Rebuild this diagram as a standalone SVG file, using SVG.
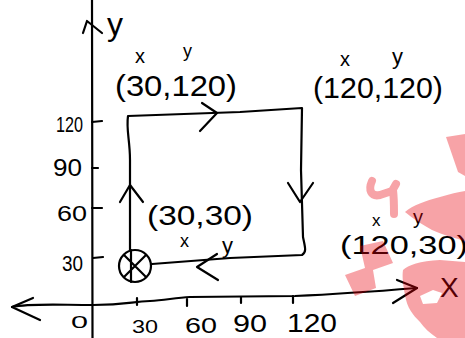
<svg xmlns="http://www.w3.org/2000/svg" width="465" height="338" viewBox="0 0 465 338">
<style>
.ink{fill:none;stroke:#000;stroke-width:2.2;stroke-linecap:round;stroke-linejoin:round}
.t{font-family:"Liberation Sans",Arial,sans-serif;fill:#000}
.wm{fill:rgb(232,0,12);fill-opacity:0.36;stroke:none}
</style>
<rect width="465" height="338" fill="#fff"/>
<g id="axes">
<path class="ink" d="M92,0 L92.5,338"/>
<path class="ink" d="M83,33 L87,21 L102,33"/>
<path class="ink" d="M92,122 L102,121 M92,168 L98,168 M92,208 L102,208 M93,258 L103,257"/>
<path class="ink" d="M12,307 C30,303 60,305 93,305 S130,302 150,301 C165,300 175,298 190,297 L295,296 C340,294 380,291 417,288"/>
<path class="ink" d="M33,298 L12,307 L40,320"/>
<path class="ink" d="M397,280 L417,288 L393,303"/>
<path class="ink" d="M137,298 L137,305 M187,299 L187,306 M241,297 L241,303 M293,296 L293,303"/>
<text class="t" x="107" y="35" font-size="32">y</text>
<text class="t" x="440" y="297" font-size="28">X</text>
<text class="t" x="56" y="132" font-size="22" textLength="27" lengthAdjust="spacingAndGlyphs">120</text>
<text class="t" x="53" y="176" font-size="24" textLength="29" lengthAdjust="spacingAndGlyphs">90</text>
<text class="t" x="57" y="221" font-size="22" textLength="30" lengthAdjust="spacingAndGlyphs">60</text>
<text class="t" x="62" y="271" font-size="22" textLength="21" lengthAdjust="spacingAndGlyphs">30</text>
<text class="t" x="71" y="328" font-size="16" textLength="17" lengthAdjust="spacingAndGlyphs">0</text>
<text class="t" x="132" y="333" font-size="18" textLength="26" lengthAdjust="spacingAndGlyphs">30</text>
<text class="t" x="185" y="333" font-size="22" textLength="32" lengthAdjust="spacingAndGlyphs">60</text>
<text class="t" x="233" y="332" font-size="24" textLength="34" lengthAdjust="spacingAndGlyphs">90</text>
<text class="t" x="287" y="332" font-size="26" textLength="50" lengthAdjust="spacingAndGlyphs">120</text>
</g>
<g id="connectors">
<path class="ink" d="M130,250 L130,160 C130,140 126,130 128,116 L240,112 L302,108 L301,170 L303,237 C305,247 307,252 302,255 L230,258 L152,264"/>
<path class="ink" d="M202,103 L217,113 L200,131"/>
<path class="ink" d="M288,183 L300,202 L313,183"/>
<path class="ink" d="M120,202 L130,185 L143,202"/>
<path class="ink" d="M217,254 L197,267 L218,280"/>
</g>
<g id="point-30-30">
<circle class="ink" cx="135" cy="266" r="16"/>
<path class="ink" d="M131,250 L131,282 M124,255 L146,277 M146,255 L124,277"/>
<text class="t" x="147" y="225" font-size="27" textLength="106" lengthAdjust="spacingAndGlyphs">(30,30)</text>
<text class="t" x="180" y="247" font-size="18">x</text>
<text class="t" x="222" y="253" font-size="22">y</text>
</g>
<g id="point-30-120">
<text class="t" x="115" y="96" font-size="30" textLength="122" lengthAdjust="spacingAndGlyphs">(30,120)</text>
<text class="t" x="135" y="63" font-size="20">x</text>
<text class="t" x="183" y="57" font-size="18">y</text>
</g>
<g id="point-120-120">
<text class="t" x="313" y="98" font-size="29" textLength="130" lengthAdjust="spacingAndGlyphs">(120,120)</text>
<text class="t" x="340" y="66" font-size="20">x</text>
<text class="t" x="392" y="64" font-size="22">y</text>
</g>
<g id="point-120-30">
<text class="t" x="340" y="254" font-size="25" textLength="128" lengthAdjust="spacingAndGlyphs">(120,30)</text>
<text class="t" x="372" y="226" font-size="17">x</text>
<text class="t" x="413" y="224" font-size="20">y</text>
</g>
<g id="watermark">
<path class="wm" d="M446,137 L465,134 L465,176 L458,172 Z"/>
<path d="M372,181 C368,190 371,197 380,195 L392,191 L396,184 M393,190 C394,198 394,206 394,214" fill="none" stroke="rgb(232,0,12)" stroke-opacity="0.36" stroke-width="8" stroke-linecap="round" stroke-linejoin="round"/>
<path class="wm" d="M405,212 C413,205 425,201 440,197 C450,194 458,192 465,191 L465,241 C455,238 445,236 432,230 C423,225 413,219 405,212 Z"/>
<path class="wm" d="M360,246 L383,241 L393,263 L373,270 L376,288 L355,296 L345,275 L365,268 Z"/>
<path class="wm" fill-rule="evenodd" d="M403,270 C408,265 420,261 440,260 L465,262 L465,338 L437,338 C430,333 424,328 420,322 C413,315 407,308 405,295 C403,285 402,276 403,270 Z M420,296 L433,290 L442,293 L437,303 L423,304 Z"/>
</g>
</svg>
